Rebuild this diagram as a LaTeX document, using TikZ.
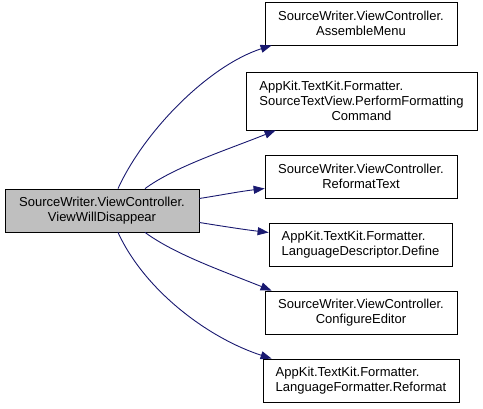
\documentclass[tikz,border=0pt]{standalone}
\usepackage{fontspec}
\setmainfont{Liberation Sans}
\usetikzlibrary{arrows.meta}
\definecolor{callblue}{HTML}{191970}
\definecolor{srcgray}{HTML}{BFBFBF}
\begin{document}
\begin{tikzpicture}[x=1pt,y=-1pt,every node/.style={font=\fontsize{13}{15}\selectfont},
  fn/.style={draw,line width=0.8pt,fill=white,inner sep=0pt,minimum height=43pt,align=center},
  call/.style={-{Triangle[length=11pt,width=8pt]},line width=0.9pt,callblue}]
  \useasboundingbox (0,0) rectangle (483,409);
  \node[fn,fill=srcgray,minimum width=194pt] (src) at (102,210.5) {SourceWriter.ViewController.\\ViewWillDisappear};
  \node[fn,minimum width=192pt] (menu) at (361,23.5) {SourceWriter.ViewController.\\AssembleMenu};
  \node[fn,minimum width=231pt,minimum height=58pt] (perform) at (361.5,101) {\rlap{AppKit.TextKit.Formatter.}\phantom{SourceTextView.PerformFormatting}\\SourceTextView.PerformFormatting\\Command};
  \node[fn,minimum width=192pt] (reformat) at (361,176.5) {SourceWriter.ViewController.\\ReformatText};
  \node[fn,minimum width=183pt,align=left] (define) at (360.5,244.5) {AppKit.TextKit.Formatter.\\LanguageDescriptor.Define};
  \node[fn,minimum width=192pt] (configure) at (361,312.5) {SourceWriter.ViewController.\\ConfigureEditor};
  \node[fn,minimum width=196pt,align=left] (langfmt) at (361,380.5) {AppKit.TextKit.Formatter.\\LanguageFormatter.Reformat};
  % calls out of ViewWillDisappear
  \draw[call] ([xshift=16pt]src.north) .. controls +(27,-59) and +(-62,20) .. ([xshift=7pt]menu.south west);
  \draw[call] ([xshift=43pt]src.north) .. controls +(30,-22) and +(-50,20) .. ([xshift=30pt]perform.south west);
  \draw[call] ([yshift=12pt]src.east) .. controls +(25,-4) and +(-25,3) .. ([yshift=-12pt]reformat.west);
  \draw[call] ([yshift=-12pt]src.east) .. controls +(25,4) and +(-25,-3) .. ([yshift=12pt]define.west);
  \draw[call] ([xshift=43pt]src.south) .. controls +(30,22) and +(-50,-20) .. ([xshift=7pt]configure.north west);
  \draw[call] ([xshift=16pt]src.south) .. controls +(27,59) and +(-62,-20) .. ([xshift=9pt]langfmt.north west);
\end{tikzpicture}
\end{document}
